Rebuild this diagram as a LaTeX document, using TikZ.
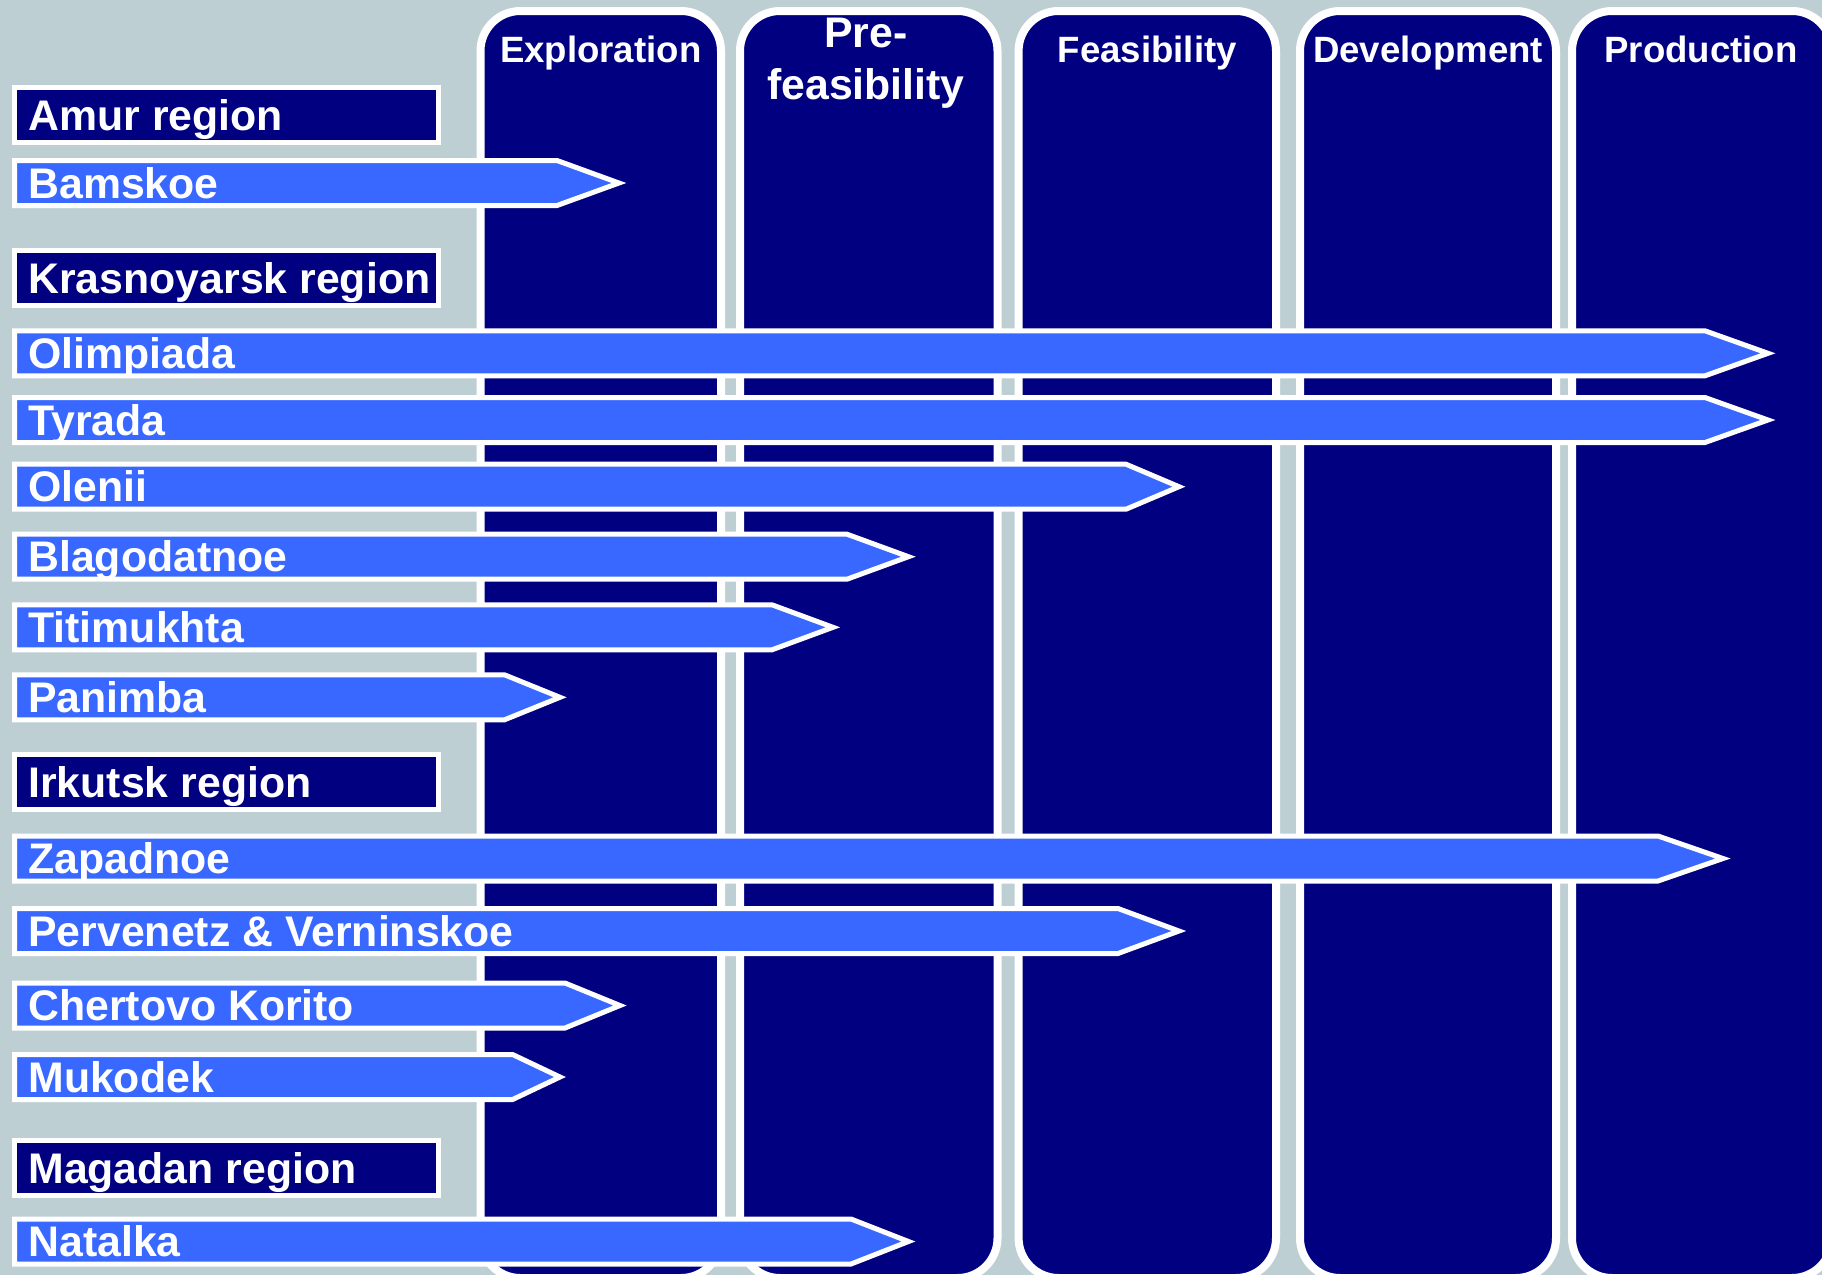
\documentclass[tikz,border=0pt]{standalone}
\usepackage{fontspec}
\setmainfont{Liberation Sans}
\definecolor{navyfill}{RGB}{0,0,128}
\definecolor{barblue}{RGB}{56,104,255}
\definecolor{bgcol}{RGB}{190,207,212}
\tikzset{
  phase/.style={draw=white, line width=4pt, fill=navyfill, rounded corners=20pt},
  regionbox/.style={draw=white, line width=2.5pt, fill=navyfill},
  bar/.style={draw=white, line width=2.5pt, fill=barblue, line join=miter, miter limit=12},
  lbl/.style={anchor=base west, text=white, inner sep=0pt, font=\fontsize{21.4}{24}\selectfont\bfseries},
  hdr/.style={anchor=base, text=white, inner sep=0pt, font=\fontsize{18.3}{22}\selectfont\bfseries},
  hdrbig/.style={hdr, font=\fontsize{21.4}{24}\selectfont\bfseries}
}
\newcommand{\projbar}[5]{%
  \draw[bar] (14.5,{#2-22.5}) -- ({#3-1},{#2-22.5}) -- ({#4-6},#2) -- ({#3-1},{#2+22.5}) -- (14.5,{#2+22.5}) -- cycle;
  \node[lbl] (#1) at (28,{#2+15}) {#5};}
\newcommand{\regbox}[3]{%
  \draw[regionbox] (14.5,{#2-27.5}) rectangle (438.5,{#2+27.5});
  \node[lbl] (#1) at (28,{#2+15}) {#3};}
\begin{document}
\begin{tikzpicture}[x=0.5pt,y=-0.5pt]
\useasboundingbox (0,0) rectangle (1822,1275);
\clip (0,0) rectangle (1822,1275);
\fill[bgcol] (0,0) rectangle (1822,1275);
% phase columns
\draw[phase] (480.5,11) rectangle (721,1278);
\draw[phase] (740,11) rectangle (997.5,1278);
\draw[phase] (1018.6,11) rectangle (1276,1278);
\draw[phase] (1300,11) rectangle (1556,1278);
\draw[phase] (1572,11) rectangle (1832,1278);
\node[hdr] (hExpl) at (600.75,62.3) {Exploration};
\node[hdrbig] (hPre1) at (866,47.7) {Pre-};
\node[hdrbig] (hPre2) at (866,99) {feasibility};
\node[hdr] (hFeas) at (1147.3,62.3) {Feasibility};
\node[hdr] (hDev) at (1428,62.3) {Development};
\node[hdr] (hProd) at (1701,62.3) {Production};
% regions and projects
\regbox{rAmur}{115}{Amur region}
\projbar{pBam}{183}{558}{625}{Bamskoe}
\regbox{rKras}{278}{Krasnoyarsk region}
\projbar{pOlim}{353.3}{1706}{1774}{Olimpiada}
\projbar{pTyr}{420}{1706}{1774}{Tyrada}
\projbar{pOlen}{486.7}{1127}{1185}{Olenii}
\projbar{pBlag}{556.7}{848}{914.5}{Blagodatnoe}
\projbar{pTiti}{627.3}{773}{839}{Titimukhta}
\projbar{pPan}{697.3}{505.5}{566}{Panimba}
\regbox{rIrk}{782}{Irkutsk region}
\projbar{pZap}{858.5}{1659}{1729}{Zapadnoe}
\projbar{pPerv}{931}{1119}{1185}{Pervenetz \& Verninskoe}
\projbar{pChert}{1005.5}{566}{626}{Chertovo Korito}
\projbar{pMuk}{1077}{513.6}{566}{Mukodek}
\regbox{rMag}{1168}{Magadan region}
\projbar{pNat}{1241.5}{852}{914.5}{Natalka}
\end{tikzpicture}
\end{document}
